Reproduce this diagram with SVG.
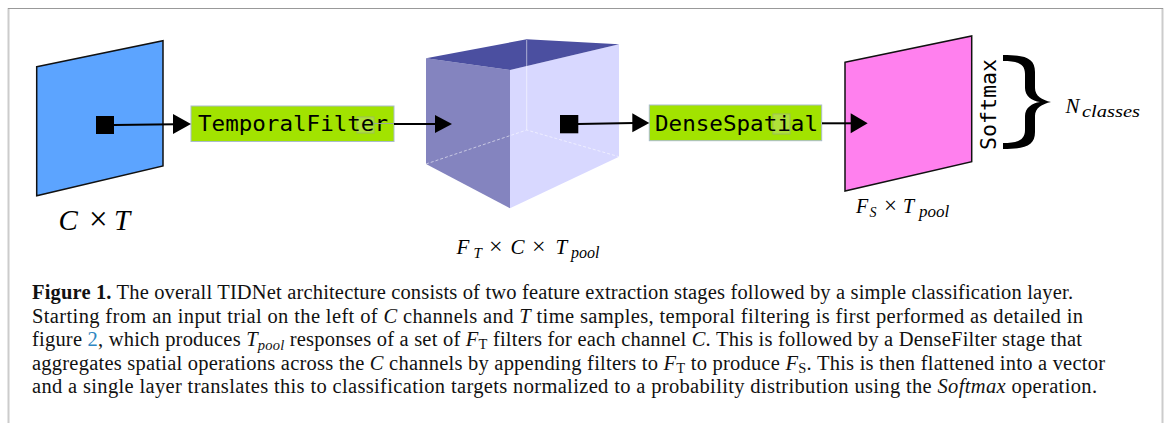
<svg xmlns="http://www.w3.org/2000/svg" width="1166" height="423" viewBox="0 0 1166 423">
<style>
.frame{stroke:#cccccc;stroke-width:2;fill:none}
.plane{stroke:#111;stroke-width:1.5}
.box{fill:#a2e300;stroke:#a9bccb;stroke-width:1}
.mono{font-family:"DejaVu Sans Mono",monospace;fill:#000}
.math{font-family:"Liberation Serif",serif;fill:#000}
.it{font-style:italic}
.cap{font-family:"Liberation Serif",serif;font-size:20.5px;fill:#111}
.conn{stroke:#000;stroke-width:2;fill:none}
.head{fill:#000}
.ghost{fill:#b8e060;stroke:#9aa79a;stroke-width:1;opacity:0.6}
.hidden{stroke:#ffffff;stroke-opacity:0.55;stroke-width:1;fill:none}
</style>
<rect width="1166" height="423" fill="#ffffff"/>
<g id="frame">
<line x1="8.5" y1="8" x2="8.5" y2="423" class="frame"/>
<line x1="1162.5" y1="8" x2="1162.5" y2="423" class="frame"/>
<line x1="8" y1="8.5" x2="1163" y2="8.5" stroke="#999999" stroke-width="1"/>
</g>
<g id="input-plane">
<polygon points="36.7,66.7 163,40.7 163,166 36.7,195.7" fill="#5ca4ff" class="plane"/>
<text class="math" font-size="29" y="230"><tspan class="it" x="58.5">C</tspan><tspan x="89" font-size="33">×</tspan><tspan class="it" x="114" font-size="29">T</tspan></text>
</g>
<g id="temporal-filter">
<rect x="191" y="106" width="203" height="35.5" class="box"/>
<rect x="357" y="117" width="17" height="16" class="ghost"/>
<text class="mono" x="198" y="131" font-size="22" textLength="190" lengthAdjust="spacingAndGlyphs">TemporalFilter</text>
</g>
<g id="feature-cube">
<polygon points="426,58.3 510,70 510,208.3 426,164" fill="#8484bf"/>
<polygon points="510,70 619,44.3 619,156.7 510,208.3" fill="#d8d8ff"/>
<polygon points="426,58.3 526.7,39.3 619,44.3 510,70" fill="#4b4fa0"/>
<line x1="526.7" y1="40" x2="526.7" y2="130" class="hidden"/>
<polyline points="426,164 526.7,130 619,156.7" class="hidden" stroke-dasharray="3,2"/>
<text class="math" font-size="21" y="253.5"><tspan class="it" x="456.5">F</tspan><tspan class="it" x="473.5" y="257.5" font-size="15">T</tspan><tspan x="489" y="253.5" font-size="24">×</tspan><tspan class="it" x="510.5" font-size="21">C</tspan><tspan x="532" font-size="24">×</tspan><tspan class="it" x="555.5" font-size="21">T</tspan><tspan class="it" x="571" y="257.5" font-size="16">pool</tspan></text>
</g>
<g id="dense-spatial">
<rect x="649.3" y="105" width="172.4" height="35.7" class="box"/>
<rect x="773" y="114" width="17" height="20" class="ghost"/>
<text class="mono" x="655" y="130.5" font-size="22" textLength="163" lengthAdjust="spacingAndGlyphs">DenseSpatial</text>
</g>
<g id="output-plane">
<polygon points="845,62.3 971.7,36 971.7,161.7 845,191" fill="#ff80ee" class="plane"/>
<text class="math" font-size="20" y="213"><tspan class="it" x="856">F</tspan><tspan class="it" x="869.5" y="217" font-size="14">S</tspan><tspan x="884" y="213" font-size="23">×</tspan><tspan class="it" x="903" font-size="20">T</tspan><tspan class="it" x="919" y="217" font-size="17">pool</tspan></text>
</g>
<g id="softmax">
<text class="mono" font-size="21" transform="translate(996,150) rotate(-90)" textLength="91" lengthAdjust="spacingAndGlyphs">Softmax</text>
<path d="M1003,55 C1025,55 1035,58 1035,72 L1035,88 C1035,96 1042,100 1051,102 C1042,104 1035,108 1035,116 L1035,132 C1035,146 1025,149 1003,149 L1003,143 C1018,143 1025,140 1025,130 L1025,116 C1025,108 1032,103 1040,102 C1032,101 1025,96 1025,88 L1025,74 C1025,64 1018,61 1003,61 Z" fill="#000"/>
<text class="math" font-size="21" y="113"><tspan class="it" x="1065.5">N</tspan></text>
<text class="math it" font-size="16" x="1082" y="117" textLength="58" lengthAdjust="spacingAndGlyphs">classes</text>
</g>
<g id="connectors">
<rect x="96" y="116" width="18" height="18" fill="#000"/>
<line x1="114" y1="125" x2="175" y2="124.3" class="conn"/>
<polygon points="173,114 191,124 173,134" class="head"/>
<line x1="374" y1="123.5" x2="394" y2="123.5" stroke="#9aa79a" stroke-width="1"/>
<line x1="394" y1="124" x2="437" y2="124" class="conn"/>
<polygon points="435,115 452,124 435,133" class="head"/>
<rect x="560" y="115" width="18.3" height="18.3" fill="#000"/>
<line x1="578" y1="124" x2="634" y2="123" class="conn"/>
<polygon points="632.3,113.3 649.3,123 632.3,132.3" class="head"/>
<line x1="822" y1="123.3" x2="853" y2="123.3" class="conn"/>
<polygon points="850.7,113.3 867.7,123.3 850.7,133.3" class="head"/>
</g>
<g id="caption">
<text class="cap" x="32" y="299" textLength="1041"><tspan font-weight="bold">Figure 1.</tspan> The overall TIDNet architecture consists of two feature extraction stages followed by a simple classification layer.</text>
<text class="cap" x="32" y="322.5" textLength="1051">Starting from an input trial on the left of <tspan class="it">C</tspan> channels and <tspan class="it">T</tspan> time samples, temporal filtering is first performed as detailed in</text>
<text class="cap" x="32" y="346" textLength="1050">figure <tspan fill="#2e86c1">2</tspan>, which produces <tspan class="it">T</tspan><tspan class="it" font-size="14.5" dy="4">pool</tspan><tspan dy="-4"> responses of a set of </tspan><tspan class="it">F</tspan><tspan font-size="14.5" dy="3">T</tspan><tspan dy="-3"> filters for each channel </tspan><tspan class="it">C</tspan>. This is followed by a DenseFilter stage that</text>
<text class="cap" x="32" y="369.5" textLength="1073">aggregates spatial operations across the <tspan class="it">C</tspan> channels by appending filters to <tspan class="it">F</tspan><tspan font-size="14.5" dy="3">T</tspan><tspan dy="-3"> to produce </tspan><tspan class="it">F</tspan><tspan font-size="14.5" dy="3">S</tspan><tspan dy="-3">. This is then flattened into a vector</tspan></text>
<text class="cap" x="32" y="393" textLength="1065">and a single layer translates this to classification targets normalized to a probability distribution using the <tspan class="it">Softmax</tspan> operation.</text>
</g>
</svg>
